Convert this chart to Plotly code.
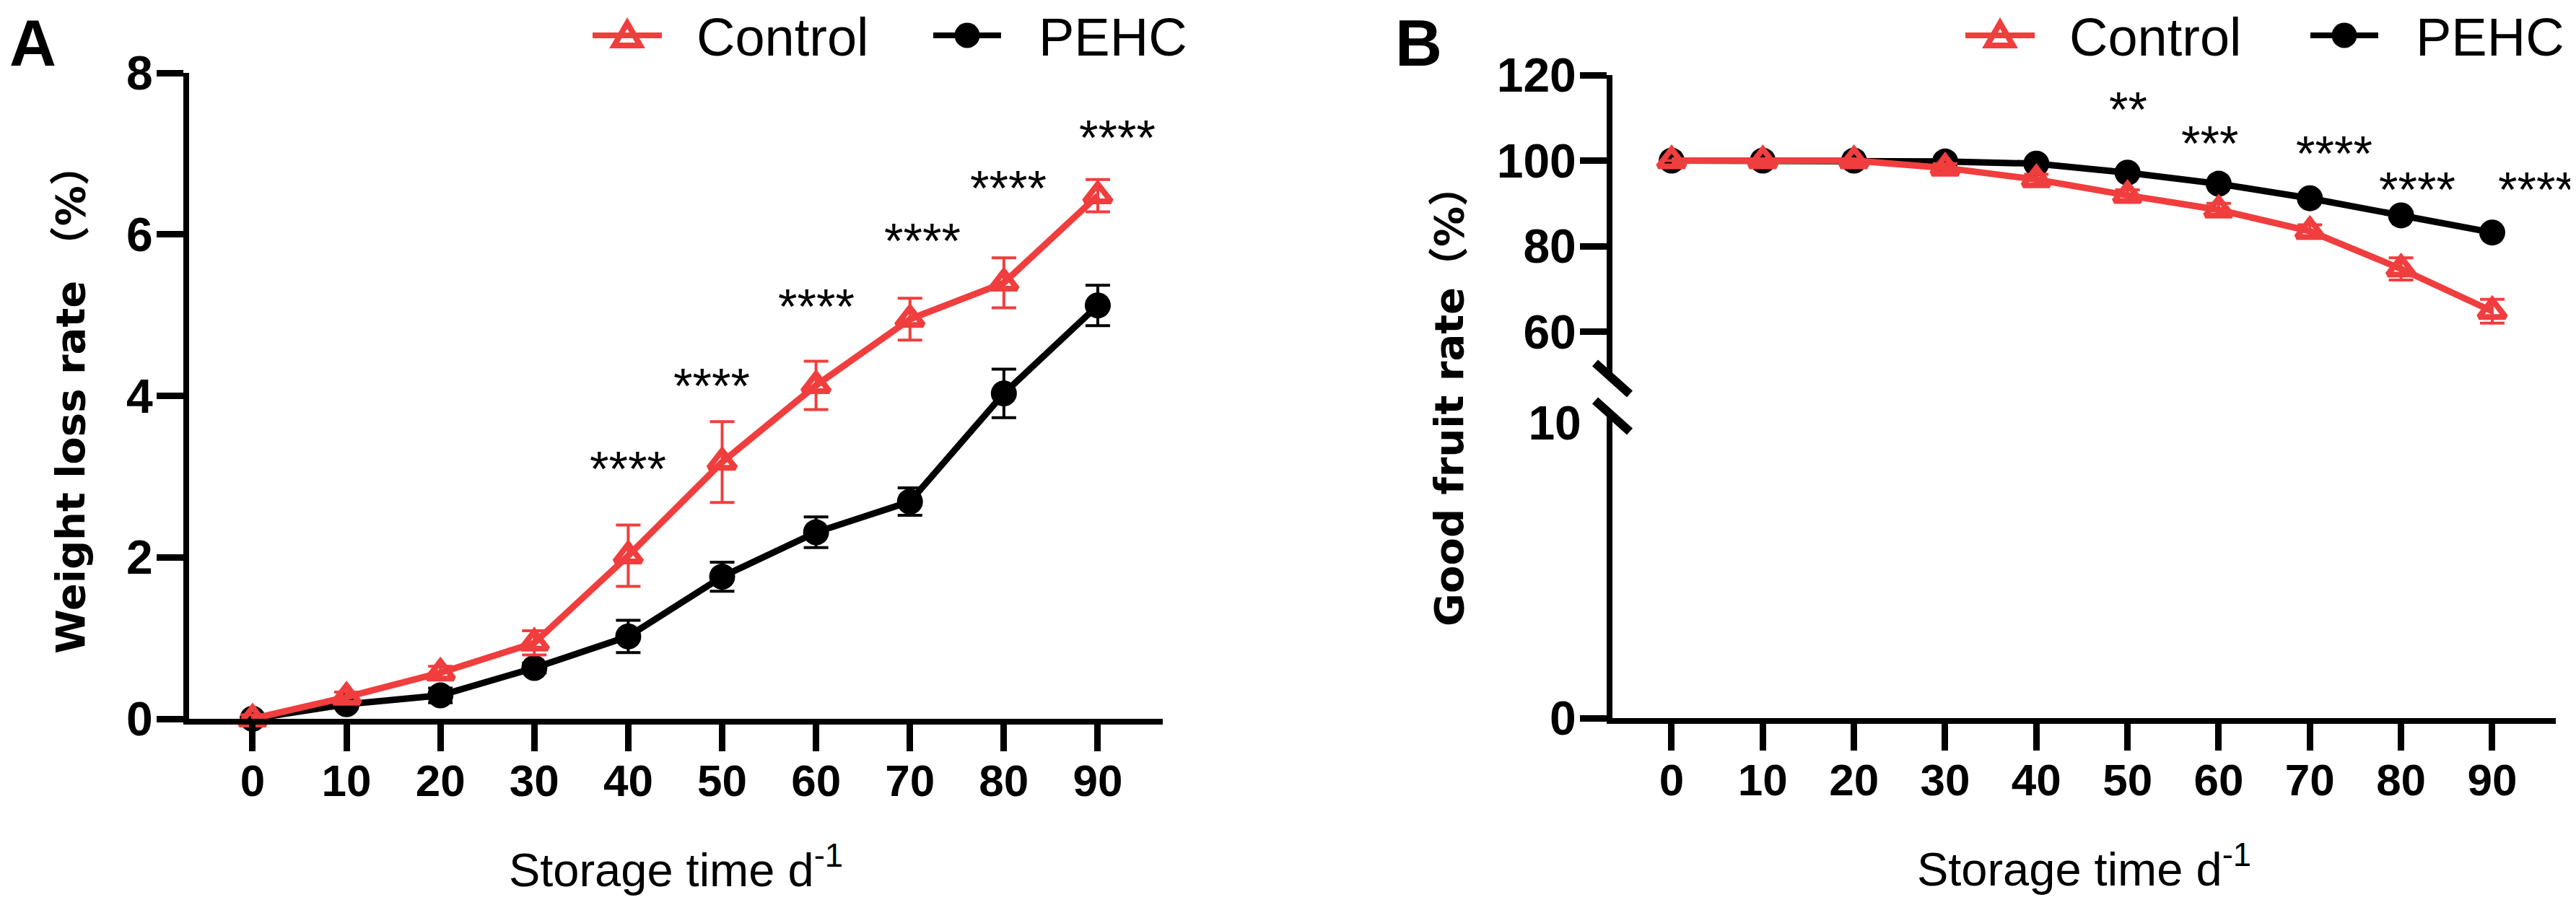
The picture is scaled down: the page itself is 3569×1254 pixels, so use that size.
import plotly.graph_objects as go

W, H = 3569, 1254

# ---------------- data ----------------
days = [0, 10, 20, 30, 40, 50, 60, 70, 80, 90]

# Panel A: weight loss rate (%)
ctrl_wl = [0.00, 0.27, 0.57, 0.94, 2.02, 3.18, 4.13, 4.95, 5.40, 6.48]
ctrl_wl_err = [0.05, 0.06, 0.08, 0.15, 0.38, 0.50, 0.30, 0.26, 0.31, 0.20]
pehc_wl = [0.00, 0.18, 0.29, 0.63, 1.02, 1.76, 2.31, 2.69, 4.03, 5.12]
pehc_wl_err = [0.03, 0.05, 0.09, 0.06, 0.20, 0.18, 0.19, 0.17, 0.30, 0.25]
sig_wl = ["", "", "", "", "****", "****", "****", "****", "****", "****"]
sig_wl_x = [None, None, None, None, 40.0, 48.9, 60.0, 71.3, 80.5, 92.1]
sig_wl_y = [None, None, None, None, 3.09, 4.12, 5.10, 5.92, 6.57, 7.20]

# Panel B: good fruit rate (%)
ctrl_gf = [100.0, 100.0, 100.0, 98.3, 95.6, 91.9, 88.5, 83.5, 74.7, 64.8]
ctrl_gf_err = [0.0, 0.0, 0.0, 1.0, 1.2, 1.3, 1.5, 1.5, 2.6, 2.8]
pehc_gf = [100.0, 100.0, 100.0, 99.8, 99.3, 97.2, 94.6, 91.2, 87.2, 83.2]
pehc_gf_err = [0.0, 0.0, 0.0, 0.3, 0.4, 0.5, 0.6, 0.6, 0.7, 0.7]
sig_gf = ["", "", "", "", "", "**", "***", "****", "****", "****"]
sig_gf_x = [None, None, None, None, None, 50.1, 59.0, 72.7, 81.8, 94.8]
sig_gf_y = [None, None, None, None, None, 111.9, 104.0, 101.6, 93.2, 93.2]

wl_ticks = [0, 2, 4, 6, 8]
gf_upper_ticks = [60, 80, 100, 120]
gf_lower_ticks = [0]
gf_lower_label_ticks = [10]

series_names = ["Control", "PEHC"]

RED = "#F03E3E"
BLACK = "#000000"

def px_x(p):
    return p / W

def px_y(p):
    return 1 - p / H

TICKFONT_Y = dict(family="Liberation Sans, Arial", size=66, color=BLACK, weight="bold")
TICKFONT_X = dict(family="Liberation Sans, Arial", size=62, color=BLACK, weight="bold")
YTITLEFONT = dict(family="DejaVu Sans, Noto Sans CJK SC", size=56, color=BLACK, weight="bold")
XTITLEFONT = dict(family="Liberation Sans, Arial", size=65, color=BLACK)
LEGFONT = dict(family="Liberation Sans, Arial", size=74, color=BLACK)
STARFONT = dict(family="Liberation Sans, Arial", size=68, color=BLACK)
LETTERFONT = dict(family="Liberation Sans, Arial", size=90, color=BLACK)

fig = go.Figure()

def add_pair(xa, ya, ctrl, ctrl_err, pehc, pehc_err):
    fig.add_trace(go.Scatter(
        x=days, y=pehc, name=series_names[1], xaxis=xa, yaxis=ya, showlegend=False,
        mode="lines+markers", cliponaxis=False,
        line=dict(color=BLACK, width=9),
        marker=dict(symbol="circle", size=36, color=BLACK, line=dict(width=0)),
        error_y=dict(type="data", array=pehc_err, color=BLACK, thickness=4, width=17),
    ))
    fig.add_trace(go.Scatter(
        x=days, y=ctrl, name=series_names[0], xaxis=xa, yaxis=ya, showlegend=False,
        mode="lines+markers", cliponaxis=False,
        line=dict(color=RED, width=9),
        marker=dict(symbol="triangle-up-open", size=32, color=RED, line=dict(width=8, color=RED)),
        error_y=dict(type="data", array=ctrl_err, color=RED, thickness=4, width=17),
    ))

add_pair("x", "y", ctrl_wl, ctrl_wl_err, pehc_wl, pehc_wl_err)
add_pair("x2", "y3", ctrl_gf, ctrl_gf_err, pehc_gf, pehc_gf_err)
# empty traces so the lower broken-axis segment is created
for ya in ["y2", "y4"]:
    fig.add_trace(go.Scatter(x=[None], y=[None], xaxis="x2", yaxis=ya, showlegend=False,
                             hoverinfo="skip", mode="markers"))

axis_common = dict(showgrid=False, zeroline=False, showline=True, linecolor=BLACK,
                   linewidth=8, ticks="outside", ticklen=37, tickwidth=9, tickcolor=BLACK,
                   automargin=False)

fig.update_layout(
    xaxis=dict(domain=[px_x(254), px_x(1603)], range=[-6.76, 96.92], anchor="y",
               tickvals=days, tickfont=TICKFONT_X, ticklabelstandoff=-12,
               title=dict(text="Storage time d<sup>-1</sup>", font=XTITLEFONT, standoff=70),
               **axis_common),
    yaxis=dict(domain=[px_y(988), px_y(93)], range=[0, 8], anchor="x",
               tickvals=wl_ticks, tickfont=TICKFONT_Y, ticklabelstandoff=-8,
               **axis_common),
    xaxis2=dict(domain=[px_x(2226), px_x(3533)], range=[-6.49, 96.97], anchor="y2",
                tickvals=days, tickfont=TICKFONT_X, ticklabelstandoff=-12,
                title=dict(text="Storage time d<sup>-1</sup>", font=XTITLEFONT, standoff=70),
                **axis_common),
    yaxis2=dict(domain=[px_y(987), px_y(566)], range=[0, 10.3], anchor="x2",
                tickvals=gf_lower_ticks, tickfont=TICKFONT_Y, ticklabelstandoff=-8,
                **axis_common),
    yaxis3=dict(domain=[px_y(511), px_y(96)], range=[50, 120], anchor="x2",
                tickvals=gf_upper_ticks, tickfont=TICKFONT_Y, ticklabelstandoff=-8,
                **axis_common),
    yaxis4=dict(overlaying="y2", range=[0, 10.3], anchor="x2", side="left",
                tickvals=gf_lower_label_ticks, tickfont=TICKFONT_Y, ticklabelstandoff=-8,
                showgrid=False, zeroline=False, showline=False, automargin=False,
                ticks="outside", ticklen=37, tickwidth=9, tickcolor="rgba(0,0,0,0)"),
)

ann = []
shapes = []

# y-axis titles
ann.append(dict(x=px_x(90), y=px_y(546), xref="paper", yref="paper", xanchor="center",
                yanchor="middle", text="Weight loss rate （%）", textangle=-90,
                showarrow=False, font=YTITLEFONT))
ann.append(dict(x=px_x(1999), y=px_y(541), xref="paper", yref="paper", xanchor="center",
                yanchor="middle", text="Good fruit rate（%）", textangle=-90,
                showarrow=False, font=YTITLEFONT))

# significance labels
for xv, s, yv in zip(sig_wl_x, sig_wl, sig_wl_y):
    if s:
        ann.append(dict(x=xv, y=yv, xref="x", yref="y", text=s, showarrow=False,
                        font=STARFONT, yshift=1))
for xv, s, yv in zip(sig_gf_x, sig_gf, sig_gf_y):
    if s:
        ann.append(dict(x=xv, y=yv, xref="x2", yref="y3", text=s, showarrow=False,
                        font=STARFONT, yshift=1))

# panel letters (box top at the page top)
ann.append(dict(x=px_x(37), y=1, xref="paper", yref="paper", text="<b>A</b>",
                xanchor="center", yanchor="top", showarrow=False, font=LETTERFONT))
ann.append(dict(x=px_x(1957), y=1, xref="paper", yref="paper", text="<b>B</b>",
                xanchor="center", yanchor="top", showarrow=False, font=LETTERFONT))

# legends (keys drawn as shapes, labels as text)
def legend_keys(cx_ctrl, cx_pehc, cy):
    shapes.append(dict(type="line", xref="paper", yref="paper",
                       x0=px_x(cx_ctrl - 48), x1=px_x(cx_ctrl + 48), y0=px_y(cy), y1=px_y(cy),
                       line=dict(color=RED, width=8)))
    tri = "M {a},{b} L {c},{d} L {e},{f} Z".format(
        a=px_x(cx_ctrl), b=px_y(cy - 17),
        c=px_x(cx_ctrl - 18), d=px_y(cy + 14),
        e=px_x(cx_ctrl + 18), f=px_y(cy + 14))
    shapes.append(dict(type="path", xref="paper", yref="paper", path=tri,
                       line=dict(color=RED, width=8), fillcolor="rgba(0,0,0,0)"))
    ann.append(dict(x=px_x(cx_ctrl + 94), y=1, xref="paper", yref="paper",
                    xanchor="left", yanchor="top", text=series_names[0],
                    showarrow=False, font=LEGFONT))
    shapes.append(dict(type="line", xref="paper", yref="paper",
                       x0=px_x(cx_pehc - 47), x1=px_x(cx_pehc + 47), y0=px_y(cy), y1=px_y(cy),
                       line=dict(color=BLACK, width=8)))
    shapes.append(dict(type="circle", xref="paper", yref="paper",
                       x0=px_x(cx_pehc - 17.5), x1=px_x(cx_pehc + 17.5),
                       y0=px_y(cy - 17.5), y1=px_y(cy + 17.5),
                       line=dict(width=0), fillcolor=BLACK))
    ann.append(dict(x=px_x(cx_pehc + 97), y=1, xref="paper", yref="paper",
                    xanchor="left", yanchor="top", text=series_names[1],
                    showarrow=False, font=LEGFONT))

legend_keys(861, 1332, 41)
legend_keys(2763, 3240, 41)

# axis break marks on panel B
for (x0, y0, x1, y1) in [(2202, 495, 2250, 538), (2202, 547, 2250, 590)]:
    shapes.append(dict(type="line", xref="paper", yref="paper",
                       x0=px_x(x0), y0=px_y(y0), x1=px_x(x1), y1=px_y(y1),
                       line=dict(color=BLACK, width=12)))

fig.update_layout(annotations=ann, shapes=shapes)
fig.update_layout(width=W, height=H, margin=dict(l=0, r=0, t=0, b=0, autoexpand=False),
                  paper_bgcolor="white", plot_bgcolor="white", showlegend=False)

fig.write_html("out.html")
